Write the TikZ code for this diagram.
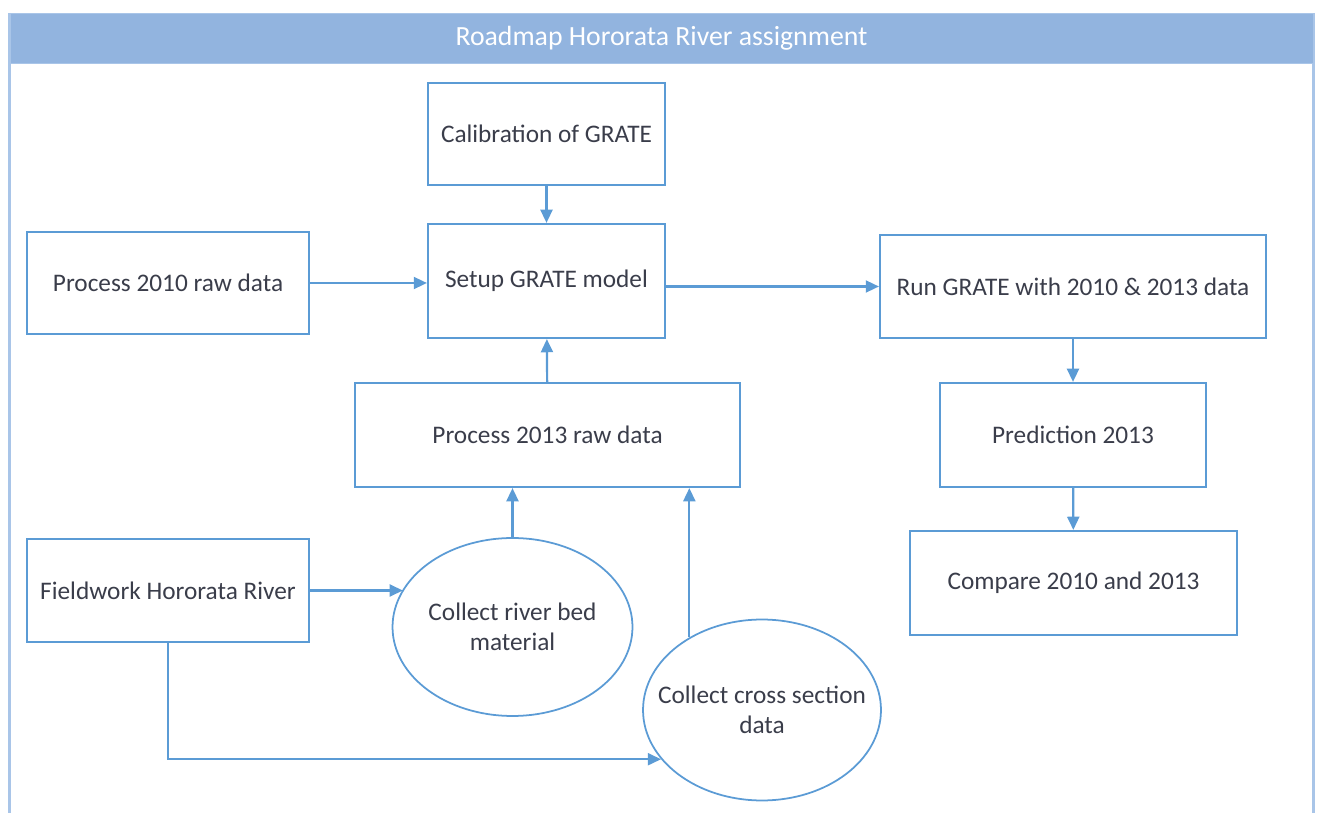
\documentclass[tikz,border=0pt]{standalone}
\usepackage{fontspec}
\setmainfont{Carlito}
\usepackage{tikz}
\usetikzlibrary{shapes,shapes.geometric}
\usetikzlibrary{arrows.meta}
\usetikzlibrary{calc}
\usepackage{xcolor}
\definecolor{lineblue}{HTML}{5B9BD5}
\definecolor{barblue}{HTML}{92B4DF}
\definecolor{frameblue}{HTML}{A9C5E8}
\definecolor{txt}{HTML}{3A3D4A}
\tikzstyle{stepbox}=[draw=lineblue, line width=1.25pt, rectangle, text=txt, align=center, font=\fontsize{14.4}{17}\selectfont]
\tikzstyle{oval}=[draw=lineblue, line width=1pt, ellipse, inner sep=0pt]
\tikzstyle{ovaltext}=[text=txt, align=center, font=\fontsize{14.4}{17}\selectfont]
\tikzstyle{flow}=[draw=lineblue, line width=1.25pt, -{Triangle[length=7.5pt,width=6.8pt]}]

\begin{document}
\begin{tikzpicture}[x=0.02cm,y=-0.02cm]
\useasboundingbox (0,0) rectangle (1319,813);
% frame and title bar
\draw[frameblue, line width=1.2pt] (9.5,13) -- (9.5,813);
\draw[frameblue, line width=1.2pt] (1313.5,13) -- (1313.5,813);
\node[fill=barblue, draw=frameblue, line width=0.4pt, minimum width=26.06cm, minimum height=1cm, inner sep=0pt, text=white, font=\fontsize{15.8}{17}\selectfont] (title) at (661.5,38) {Roadmap Hororata River assignment};

\node[stepbox, minimum width=4.74cm, minimum height=2.04cm] (cal) at (546.5,134) {Calibration of GRATE};
\node[stepbox, minimum width=4.74cm, minimum height=2.28cm] (setup) at (546.5,281) {Setup GRATE model};
\node[stepbox, minimum width=5.64cm, minimum height=2.04cm] (p2010) at (168,283) {Process 2010 raw data};
\node[stepbox, minimum width=7.72cm, minimum height=2.06cm] (run) at (1073,286.5) {Run GRATE with 2010 \& 2013 data};
\node[stepbox, minimum width=7.7cm, minimum height=2.08cm] (p2013) at (547.5,435) {Process 2013 raw data};
\node[stepbox, minimum width=5.32cm, minimum height=2.08cm] (pred) at (1073,435) {Prediction 2013};
\node[stepbox, minimum width=6.54cm, minimum height=2.08cm] (comp) at (1073.5,583) {Compare 2010 and 2013};
\node[stepbox, minimum width=5.64cm, minimum height=2.06cm] (field) at (168,590.5) {Fieldwork Hororata River};
% the ellipses are drawn empty, the text sits on top
\node[oval, minimum width=4.8cm, minimum height=3.56cm] (bed) at (512.5,627) {};
\node[ovaltext] (bedtext) at (bed) {Collect river bed\\material};
\node[oval, minimum width=4.76cm, minimum height=3.62cm] (cross) at (762,710) {};
\node[ovaltext] (crosstext) at (cross) {Collect cross section\\data};

\draw[flow] (cal) -- (setup);
\draw[flow] (p2010.east) -- (p2010.east -| setup.west);
\draw[flow] (run.west -| setup.east) -- (run.west);
\draw[flow] (p2013) -- (setup);
\draw[flow] (run) -- (pred);
\draw[flow] (pred) -- (comp);
\draw[flow] (field.east) -- (field.east -| bed.161);
\draw[flow] (bed.north) -- (bed.north |- p2013.south);
\draw[flow] (cross.135.6) -- (cross.135.6 |- p2013.south);
\draw[flow] (field.south) |- (cross.206.7);
\end{tikzpicture}
\end{document}
